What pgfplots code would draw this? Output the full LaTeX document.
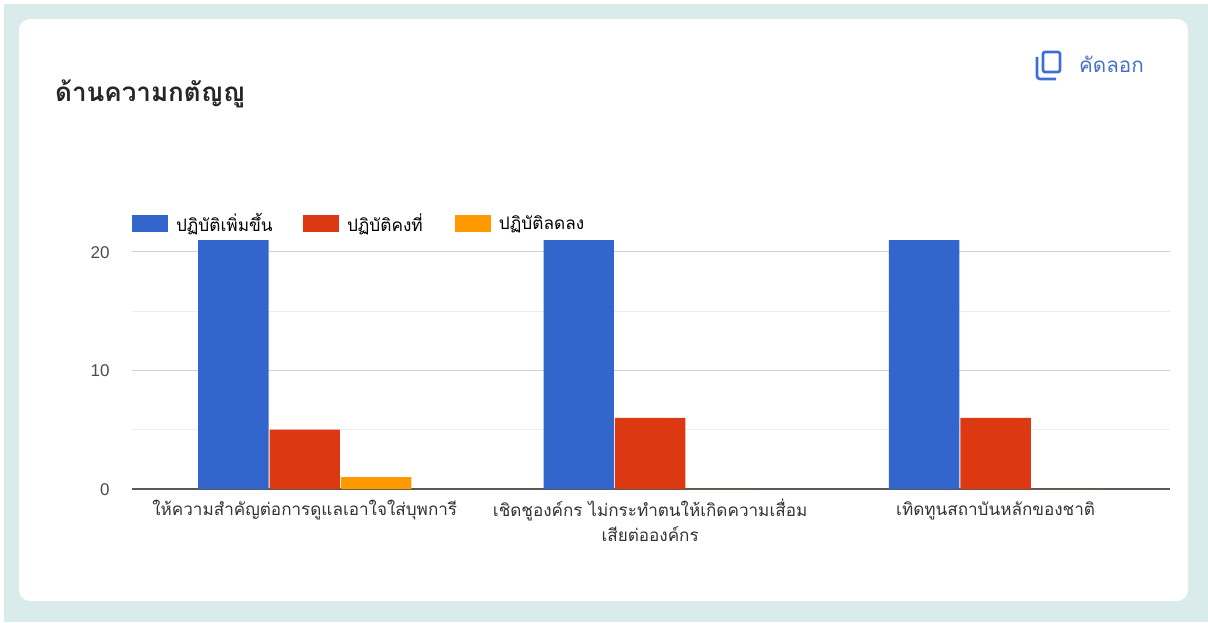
\documentclass[border=0pt]{standalone}
\usepackage{fontspec}
\setmainfont[Script=Thai]{Loma}
\newfontfamily\numfont{Liberation Sans}
\usepackage{pgfplots}
\pgfplotsset{compat=1.18}
\usepackage{pgfplotstable}
\definecolor{pagebg}{HTML}{D9EBEB}
\definecolor{sblue}{HTML}{3366CC}
\definecolor{sred}{HTML}{DC3912}
\definecolor{sorange}{HTML}{FF9900}
\definecolor{linkblue}{HTML}{3C6FD6}
\definecolor{labelgrey}{HTML}{333333}

\pgfplotstableread{
x inc same dec
0 21 5 1
1 21 6 0
2 21 6 0
}\thaidata

\newcommand{\lh}{\rule{0pt}{17pt}}

\begin{document}
\begin{tikzpicture}[x=1pt,y=1pt]
	\path[use as bounding box] (0,0) rectangle (1208,622);
	\fill[white] (0,0) rectangle (1208,622);
	\fill[pagebg] (4,0) rectangle (1208,618);
	\fill[white,rounded corners=11pt] (19,21) rectangle (1188,603);

	\node[anchor=base west,inner sep=0pt,text=black!85,font=\fontsize{26}{30}\selectfont\bfseries] at (55,520) {ด้านความกตัญญู};

	% copy icon and its label
	\draw[linkblue,line width=2.6pt,rounded corners=2pt] (1043,550) rectangle (1060,570);
	\draw[linkblue,line width=2.6pt,rounded corners=3pt] (1037,565) -- (1037,543) -- (1056,543);
	\node[anchor=base west,inner sep=0pt,text=linkblue!85!gray,font=\fontsize{20.6}{24}\selectfont] at (1079,549) {คัดลอก};

	\begin{axis}[
		at={(132pt,133pt)}, anchor=south west,
		scale only axis, width=1038pt, height=249pt,
		xmin=-0.5, xmax=2.505, ymin=0, ymax=21,
		ybar=1pt, bar width=70.4pt,
		axis x line=bottom, axis y line=left,
		x axis line style={-,draw=black!65,line width=1.2pt},
		y axis line style={draw=none},
		xtick=data,
		xticklabels={\lh ให้ความสำคัญต่อการดูแลเอาใจใส่บุพการี,
			{\lh เชิดชูองค์กร ไม่กระทำตนให้เกิดความเสื่อม\\เสียต่อองค์กร},
			\lh เทิดทูนสถาบันหลักของชาติ},
		ytick={0,10,20}, minor ytick={5,15},
		major tick length=0pt, minor tick length=0pt,
		ymajorgrids, yminorgrids,
		major grid style={draw=black!18,line width=1.2pt},
		minor grid style={draw=black!7,line width=1pt},
		x tick label style={align=center,text=labelgrey,font=\fontsize{17.1}{25}\selectfont,yshift=-6pt},
		y tick label style={text=black!70,font=\fontsize{17}{20}\selectfont\numfont,xshift=-19pt,yshift=-0.5pt},
		/pgf/number format/assume math mode=true,
		legend columns=-1,
		legend style={at={(0,1)},anchor=south west,yshift=5pt,draw=none,fill=none,inner sep=0pt,outer sep=0pt,
			font=\fontsize{17.2}{20}\selectfont,text=black,
			/tikz/every even column/.style={column sep=0pt}},
		legend image code/.code={\fill[#1] (0pt,-8.5pt) rectangle (36pt,8.5pt);},
		legend cell align=left,
	]
		\addplot[fill=sblue,draw=none] table[x=x,y=inc] {\thaidata};
		\addplot[fill=sred,draw=none] table[x=x,y=same] {\thaidata};
		\addplot[fill=sorange,draw=none] table[x=x,y=dec] {\thaidata};
		\legend{\makebox[131pt][l]{\hspace{6pt}ปฏิบัติเพิ่มขึ้น},\makebox[112pt][l]{\hspace{6pt}ปฏิบัติคงที่},\hspace{6pt}ปฏิบัติลดลง}
	\end{axis}
\end{tikzpicture}
\end{document}
